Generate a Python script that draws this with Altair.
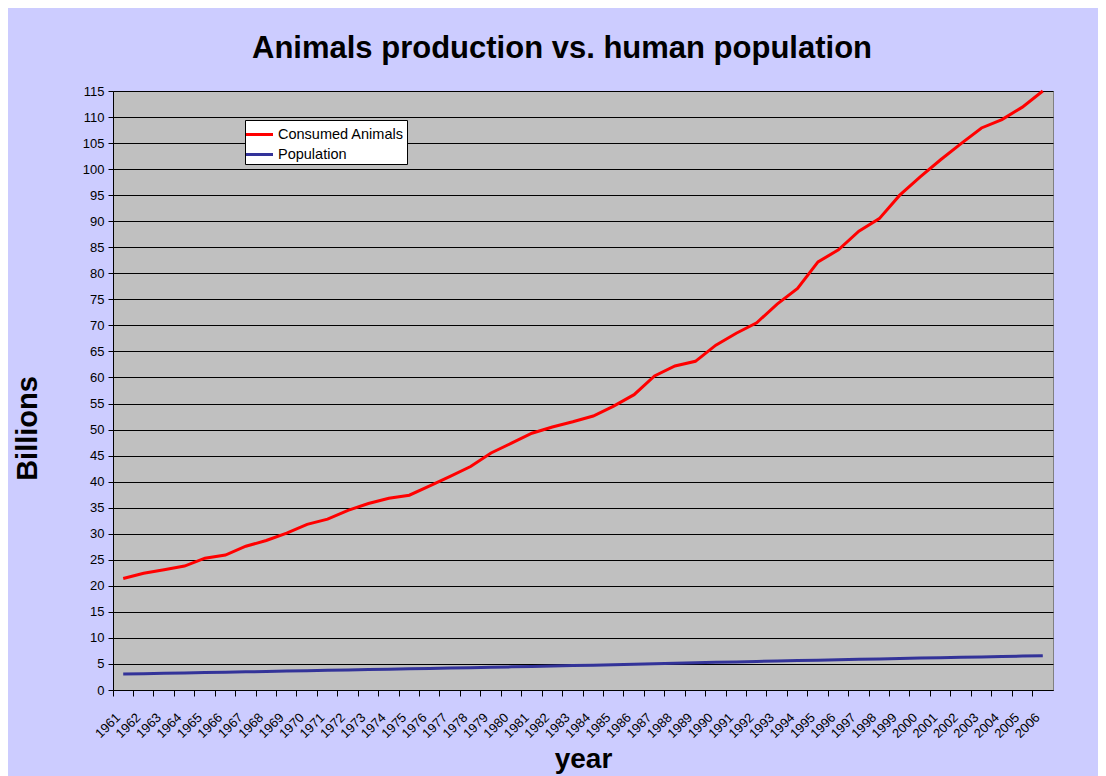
import altair as alt
import pandas as pd

years = list(range(1961, 2007))
consumed_animals = [21.4, 22.4, 23.1, 23.8, 25.3, 25.9, 27.6, 28.7, 30.1, 31.8,
                    32.8, 34.5, 35.8, 36.8, 37.4, 39.2, 41.0, 42.9, 45.5, 47.4,
                    49.3, 50.5, 51.5, 52.6, 54.5, 56.7, 60.3, 62.2, 63.1, 66.2,
                    68.5, 70.5, 74.1, 77.1, 82.2, 84.5, 88.1, 90.5, 95.0, 98.5,
                    101.8, 104.9, 107.9, 109.5, 111.9, 115.0]
population = [3.08, 3.14, 3.20, 3.27, 3.34, 3.41, 3.48, 3.55, 3.63, 3.70,
              3.78, 3.85, 3.92, 4.00, 4.07, 4.14, 4.21, 4.28, 4.36, 4.44,
              4.52, 4.60, 4.68, 4.76, 4.85, 4.94, 5.03, 5.12, 5.21, 5.31,
              5.39, 5.48, 5.56, 5.64, 5.72, 5.80, 5.88, 5.96, 6.04, 6.12,
              6.19, 6.27, 6.35, 6.43, 6.51, 6.59]
series_names = ["Consumed Animals", "Population"]
series_colors = ["#FF0000", "#333399"]
y_ticks = list(range(0, 120, 5))

rows = []
for name, vals in zip(series_names, [consumed_animals, population]):
    for yr, v in zip(years, vals):
        rows.append({"year": str(yr), "value": v, "series": name})
df = pd.DataFrame(rows)

FONT = "Liberation Sans"

chart = alt.Chart(df).mark_line(strokeWidth=3).encode(
    x=alt.X(
        "year:O",
        bandPosition=0.5,
        scale=alt.Scale(type="band", paddingInner=0, paddingOuter=0),
        axis=alt.Axis(
            title="year",
            labelAngle=-45,
            labelAlign="right",
            labelBaseline="middle",
            labelOffset=-5,
            bandPosition=0,
            tickSize=6,
            tickColor="black",
            domainColor="black",
            labelPadding=19,
            labelFontSize=13,
            labelColor="black",
            labelFont=FONT,
            grid=False,
            titleFontSize=28,
            titleFontWeight="bold",
            titleFont=FONT,
            titleColor="black",
            titleY=77,
            titleBaseline="alphabetic",
        ),
    ),
    y=alt.Y(
        "value:Q",
        scale=alt.Scale(domain=[0, 115], nice=False, zero=True),
        axis=alt.Axis(
            values=y_ticks,
            title="Billions",
            tickSize=5,
            tickColor="black",
            domainColor="black",
            labelPadding=4,
            labelFontSize=13,
            labelColor="black",
            labelFont=FONT,
            grid=True,
            gridColor="black",
            gridWidth=1,
            gridOpacity=1,
            titleFontSize=29,
            titleFontWeight="bold",
            titleFont=FONT,
            titleColor="black",
            titleX=-71,
            titleY=337,
            titleAlign="center",
            titleBaseline="bottom",
            titleAngle=270,
        ),
    ),
    color=alt.Color(
        "series:N",
        scale=alt.Scale(domain=series_names, range=series_colors),
        legend=alt.Legend(
            title=None,
            orient="none",
            legendX=132,
            legendY=29,
            fillColor="white",
            strokeColor="black",
            padding=3,
            symbolType="M-1.35,0H1.35",
            symbolSize=400,
            symbolStrokeWidth=3,
            labelFontSize=14.5,
            labelFont=FONT,
            labelColor="black",
            labelOffset=7,
            rowPadding=2,
        ),
    ),
).properties(
    width=940,
    height=599,
    autosize=alt.AutoSizeParams(type="none"),
    padding={"left": 105, "top": 83, "right": 45, "bottom": 86},
    background="#CCCCFF",
    title=alt.TitleParams(
        "Animals production vs. human population",
        fontSize=31,
        fontWeight="bold",
        font=FONT,
        color="black",
        anchor="middle",
        frame="group",
        baseline="alphabetic",
        offset=29,
        dx=-21,
        dy=33,
    ),
).configure_view(
    fill="#C0C0C0", stroke="#808080", strokeWidth=1
)

chart.save("out.html", embed_options={"renderer": "svg", "actions": False})
